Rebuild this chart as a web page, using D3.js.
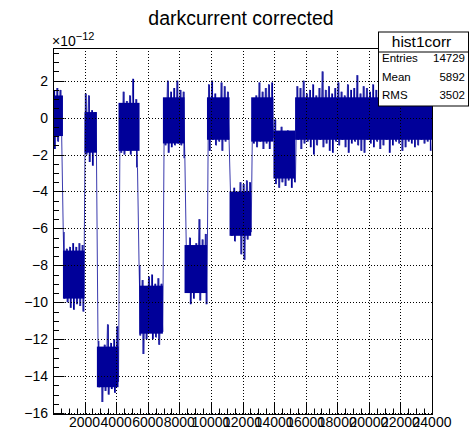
<!DOCTYPE html>
<html><head><meta charset="utf-8">
<script src="https://cdn.jsdelivr.net/npm/d3@7"></script>
<style>body{margin:0;background:#fff}svg{display:block}text{font-family:"Liberation Sans",Arial,Helvetica,sans-serif;fill:#000}</style>
</head><body><svg id="c" width="470" height="432"></svg>
<script>
// ---- data (values in units of 1e-12) ----
const binWidth = 200;           // x width of one envelope sample
const sampleHi = [
  1.5,1.6,1.5,
  -6.2,-7.1,-7.0,-6.8,-7.0,-6.8,-6.9,
  1.3,1.2,0.4,0.3,
  -12.1,-12.5,-12.3,-11.2,-12.2,-12.0,-11.3,
  0.7,1.4,0.9,1.2,2.1,1.0,
  -8.0,-8.8,-9.3,-8.6,-8.5,-9.0,-8.7,-9.0,
  0.8,2.0,1.4,1.6,2.0,1.5,1.4,
  -7.6,-6.5,-7.0,-6.8,-5.5,-6.6,-6.3,
  1.8,2.0,1.3,1.0,1.9,1.7,1.4,
  -4.4,-3.8,-4.2,-3.5,-3.6,-3.4,-3.5,
  1.0,1.2,1.9,1.4,1.6,1.8,1.9,
  -0.1,-0.8,-0.5,-0.9,-0.7,-1.2,-0.9,
  1.7,1.6,2.0,1.3,1.5,1.8,1.2,1.6,2.5,1.5,
  1.7,1.3,1.6,1.9,1.4,1.2,1.8,1.5,1.6,2.3,
  1.3,1.7,1.6,1.4,1.8,1.5,1.3,1.6,1.4,1.5,
  1.2,1.6,1.4,1.3,1.5,1.2,1.4,1.3,1.5,1.2,
  1.4,1.3,1.1
];
const sampleLo = [
  -1.7,-1.3,-1.0,
  -9.8,-10.0,-10.3,-10.4,-10.1,-10.2,-10.5,
  -2.0,-2.4,-2.6,-1.8,
  -14.6,-15.4,-14.8,-15.0,-14.7,-14.9,-14.3,
  -1.9,-2.0,-1.8,-2.0,-1.7,-2.7,
  -11.8,-12.8,-12.0,-11.6,-12.0,-11.9,-12.3,-11.6,
  -1.5,-1.9,-1.6,-1.5,-1.4,-1.5,-2.2,
  -9.5,-10.1,-9.8,-9.3,-9.9,-9.5,-10.1,
  -1.8,-1.2,-1.5,-1.3,-1.8,-1.3,-1.2,
  -6.4,-6.7,-6.3,-7.4,-7.7,-6.6,-6.2,
  -1.4,-1.6,-1.3,-1.7,-1.4,-1.7,-1.1,
  -3.6,-3.8,-3.5,-3.7,-3.4,-3.8,-3.5,
  -1.2,-1.7,-1.4,-1.3,-1.6,-2.0,-1.5,-1.2,-1.6,-1.4,
  -1.8,-1.9,-1.3,-1.5,-1.2,-1.6,-1.9,-1.4,-1.3,-1.5,
  -1.8,-1.9,-1.2,-1.4,-1.6,-1.3,-1.7,-1.5,-1.2,-1.9,
  -1.5,-1.3,-1.4,-1.8,-1.6,-1.3,-1.4,-1.6,-1.5,-1.2,
  -1.4,-1.3,-1.8
];
// plateaus: dense core band of each level
const blockStart = [0,630,2000,2780,4150,5480,6960,8330,9750,11180,12550,13960,15330];
const blockEnd   = [630,2000,2780,4150,5480,6960,8330,9750,11180,12550,13960,15330,24000];
const coreHi     = [1.2,-7.2,0.3,-12.4,0.8,-9.1,1.1,-6.9,1.1,-4.0,1.1,-0.7,1.1];
const coreLo     = [-1.0,-9.8,-1.9,-14.6,-1.8,-11.7,-1.4,-9.5,-1.2,-6.4,-1.3,-3.3,-1.2];

const xTicks = [2000,4000,6000,8000,10000,12000,14000,16000,18000,20000,22000,24000];
const yTicks = [2,0,-2,-4,-6,-8,-10,-12,-14,-16];
const statNames = ["Entries","Mean","RMS"];
const statValues = ["14729","5892","3502"];
const histName = "hist1corr";
const title = "darkcurrent corrected";

// ---- drawing ----
const svg = d3.select("#c");
const L=53, R=432, T=48, B=414;
const x = d3.scaleLinear().domain([0,24000]).range([L,R]);
const y = d3.scaleLinear().domain([-16.05,3.77]).range([B,T]);
const col = "#000099";

const gData = svg.append("g");
// zig-zag histogram line
const pts = [];
sampleHi.forEach((h,i)=>{
  const c = binWidth*(i+0.5);
  pts.push([c-binWidth/4, h]);
  pts.push([c+binWidth/4, sampleLo[i]]);
});
gData.append("path")
  .attr("d", d3.line().x(d=>x(d[0])).y(d=>y(d[1]))(pts))
  .attr("fill","none").attr("stroke","#3a3aae").attr("stroke-width",1);
// noise spikes: one vertical stroke per sample
sampleHi.forEach((h,i)=>{
  const c = x(binWidth*(i+0.5));
  gData.append("line").attr("x1",c).attr("x2",c)
    .attr("y1",y(h)).attr("y2",y(sampleLo[i]))
    .attr("stroke",col).attr("stroke-width",1.1);
});
// dense core bands on top
blockStart.forEach((s,i)=>{
  gData.append("rect")
    .attr("x", x(s)).attr("width", x(blockEnd[i])-x(s))
    .attr("y", y(coreHi[i])).attr("height", y(coreLo[i])-y(coreHi[i]))
    .attr("fill", col);
});

// grid (dotted)
const gGrid = svg.append("g").attr("stroke","#000").attr("stroke-width",1).attr("stroke-dasharray","1,2");
xTicks.filter(v=>v<24000).forEach(v=>{
  gGrid.append("line").attr("x1",Math.round(x(v))+0.5).attr("x2",Math.round(x(v))+0.5).attr("y1",T).attr("y2",B);
});
yTicks.forEach(v=>{
  gGrid.append("line").attr("y1",Math.round(y(v))+0.5).attr("y2",Math.round(y(v))+0.5).attr("x1",L).attr("x2",R);
});

// frame
svg.append("rect").attr("x",L+0.5).attr("y",T+0.5).attr("width",R-L).attr("height",B-T)
  .attr("fill","none").attr("stroke","#000").attr("stroke-width",1);

// axes ticks
const gAx = svg.append("g").attr("stroke","#000").attr("stroke-width",1);
for (let v=0; v<=24000; v+=500){
  const major = v%2000===0;
  const px = Math.round(x(v))+0.5;
  gAx.append("line").attr("x1",px).attr("x2",px).attr("y1",B).attr("y2",B-(major?11:5.5));
}
for (let v=-16; v<=3.5; v+=0.5){
  const major = Math.abs(v%2)<1e-9;
  const py = Math.round(y(v))+0.5;
  gAx.append("line").attr("y1",py).attr("y2",py).attr("x1",L).attr("x2",L+(major?11.5:6));
}
// tick labels
svg.append("g").selectAll("text").data(xTicks).join("text")
  .attr("x",d=>x(d)).attr("y",427).attr("text-anchor","middle").attr("font-size",14).text(d=>d);
svg.append("g").selectAll("text").data(yTicks).join("text")
  .attr("x",48).attr("y",d=>y(d)+5).attr("text-anchor","end").attr("font-size",14)
  .text(d=>d<0?"\u2212"+Math.abs(d):String(d));
// exponent label
const ex = svg.append("text").attr("x",52).attr("y",46).attr("font-size",14);
ex.append("tspan").text("\u00d710");
ex.append("tspan").attr("dy",-6).attr("font-size",11).text("\u221212");

// title
svg.append("text").attr("x",241).attr("y",25).attr("text-anchor","middle").attr("font-size",19.5).text(title);

// stats box
const bx=378, by=31.5, bw=91, bh=74;
svg.append("rect").attr("x",bx+0.5).attr("y",by+0.5).attr("width",bw-1).attr("height",bh)
  .attr("fill","#fff").attr("stroke","#000").attr("stroke-width",1);
svg.append("line").attr("x1",bx).attr("x2",bx+bw).attr("y1",by+20.5).attr("y2",by+20.5).attr("stroke","#000");
svg.append("text").attr("x",bx+bw/2-2).attr("y",by+15).attr("text-anchor","middle").attr("font-size",15.5).text(histName);
statNames.forEach((n,i)=>{
  const yy = by+30.5+i*18.5;
  svg.append("text").attr("x",bx+4).attr("y",yy).attr("font-size",11.5).text(n);
  svg.append("text").attr("x",bx+bw-4).attr("y",yy).attr("text-anchor","end").attr("font-size",11.5).text(statValues[i]);
});
</script></body></html>
